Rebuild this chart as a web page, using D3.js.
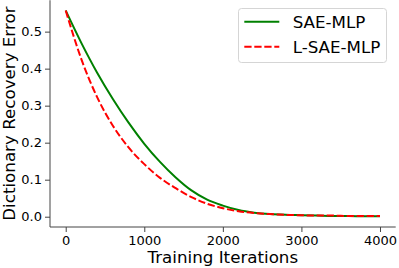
<!DOCTYPE html>
<html><head><meta charset="utf-8">
<script src="https://cdn.jsdelivr.net/npm/d3@7"></script>
<style>body{margin:0;background:#fff}svg{display:block}text{font-family:"DejaVu Sans",sans-serif}</style>
</head><body><svg id="c" width="399" height="268"></svg>
<script>
const iterations = [0,200,400,600,800,1000,1200,1400,1600,1800,2000,2200,2400,2600,2800,3000,3200,3400,3600,3800,4000];
const saeMlp = [0.557,0.469,0.389,0.318,0.254,0.197,0.148,0.106,0.071,0.046,0.030,0.018,0.011,0.007,0.005,0.004,0.003,0.002,0.002,0.001,0.001];
const lSaeMlp = [0.557,0.425,0.323,0.246,0.187,0.142,0.105,0.077,0.053,0.035,0.023,0.015,0.010,0.007,0.005,0.004,0.003,0.003,0.002,0.002,0.002];
const xTicks = [0,1000,2000,3000,4000];
const yTicks = [0.0,0.1,0.2,0.3,0.4,0.5];
const seriesNames = ["SAE-MLP","L-SAE-MLP"];

const svg = d3.select("#c");
const L=50, R=395.7, T=0.25, B=227;
const x = d3.scaleLinear().domain([-200,4200]).range([L,R]);
const ymin=-0.0278, ymax=0.5848;
const y = d3.scaleLinear().domain([ymin,ymax]).range([B,T]);

const line = d3.line().x((d,i)=>x(iterations[i])).y(d=>y(d)).curve(d3.curveMonotoneX);
svg.append("path").attr("d",line(saeMlp)).attr("fill","none").attr("stroke","#008000").attr("stroke-width",2);
svg.append("path").attr("d",line(lSaeMlp)).attr("fill","none").attr("stroke","#ff0000").attr("stroke-width",2).attr("stroke-dasharray","7.3,2.7");

const xa = svg.append("g").attr("transform",`translate(0,${B})`).call(d3.axisBottom(x).tickValues(xTicks).tickFormat(d3.format("d")).tickSize(5).tickPadding(4));
const ya = svg.append("g").attr("transform",`translate(${L},0)`).call(d3.axisLeft(y).tickValues(yTicks).tickFormat(d3.format(".1f")).tickSize(5).tickPadding(3));
[xa,ya].forEach(a=>{a.select(".domain").attr("stroke","#444").attr("stroke-width",1);a.selectAll(".tick line").attr("stroke","#444");a.selectAll("text").attr("font-size",13).attr("fill","#000").style("font-family","DejaVu Sans");});
xa.select(".domain").attr("d",`M${L},0H${R}`);
ya.select(".domain").attr("d",`M0,${B}V${T}`);

svg.append("text").attr("x",(L+R)/2).attr("y",263).attr("text-anchor","middle").attr("font-size",16.7).text("Training Iterations");
svg.append("text").attr("transform",`translate(14.5,${(T+B)/2}) rotate(-90)`).attr("text-anchor","middle").attr("font-size",16.7).text("Dictionary Recovery Error");

const lg = svg.append("g");
lg.append("rect").attr("x",238.5).attr("y",8.5).attr("width",148).attr("height",54).attr("rx",3).attr("fill","#fff").attr("stroke","#d5d5d5").attr("stroke-width",1);
const cols=["#008000","#ff0000"], dashes=[null,"7.3,2.7"], ys=[21.7,46.7];
seriesNames.forEach((n,i)=>{
  lg.append("line").attr("x1",244.3).attr("x2",279.3).attr("y1",ys[i]).attr("y2",ys[i]).attr("stroke",cols[i]).attr("stroke-width",2).attr("stroke-dasharray",dashes[i]);
  lg.append("text").attr("x",292.7).attr("y",ys[i]).attr("dy","0.36em").attr("font-size",16.7).text(n);
});
</script></body></html>
